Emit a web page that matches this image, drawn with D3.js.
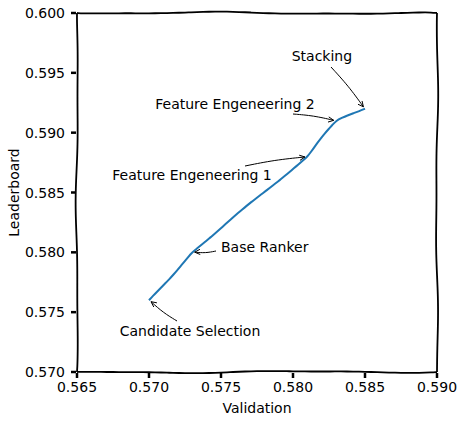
<!DOCTYPE html>
<html><head><meta charset="utf-8">
<script src="https://cdn.jsdelivr.net/npm/d3@7"></script>
<style>body{margin:0;background:#fff}svg{display:block}text{font-family:"DejaVu Sans",sans-serif;fill:#000}</style>
</head><body>
<script>
const stages = ["Candidate Selection","Base Ranker","Feature Engeneering 1","Feature Engeneering 2","Stacking"];
const validation = [0.570, 0.573, 0.581, 0.583, 0.585];
const leaderboard = [0.576, 0.580, 0.588, 0.591, 0.592];
const xTicks = [0.565,0.570,0.575,0.580,0.585,0.590];
const yTicks = [0.570,0.575,0.580,0.585,0.590,0.595,0.600];
// annotation text anchor positions in data units
const labelX = [0.57285, 0.5750, 0.57299, 0.57597, 0.58201];
const labelY = [0.5730, 0.5800, 0.58604, 0.59198, 0.59599];

const W=463,H=423,FS=14;
const svg=d3.select("body").append("svg").attr("width",W).attr("height",H);
const x=d3.scaleLinear().domain([0.565,0.590]).range([77,437]);
const y=d3.scaleLinear().domain([0.570,0.600]).range([372,13]);

function wob(x0,y0,x1,y1,seed,amp){
  const n=60,pts=[];
  const len=Math.hypot(x1-x0,y1-y0), nx=-(y1-y0)/len, ny=(x1-x0)/len;
  for(let i=0;i<=n;i++){
    const t=i/n;
    const d=amp*(Math.sin(t*len/38+seed)*0.7+Math.sin(t*len/17+seed*2.3)*0.3)*Math.sin(Math.PI*t)**0.3;
    pts.push([x0+(x1-x0)*t+nx*d,y0+(y1-y0)*t+ny*d]);
  }
  return d3.line().curve(d3.curveBasis)(pts);
}
const g=svg.append("g");
xTicks.forEach(v=>g.append("line").attr("x1",x(v)).attr("x2",x(v)).attr("y1",y(0.570)+1).attr("y2",y(0.570)+6).attr("stroke","#000").attr("stroke-width",2.5));
yTicks.forEach(v=>g.append("line").attr("y1",y(v)).attr("y2",y(v)).attr("x1",x(0.565)-1).attr("x2",x(0.565)-6).attr("stroke","#000").attr("stroke-width",2.5));
xTicks.forEach(v=>g.append("text").attr("x",x(v)).attr("y",y(0.570)+20).attr("text-anchor","middle").attr("font-size",FS).text(v.toFixed(3)));
yTicks.forEach(v=>g.append("text").attr("x",x(0.565)-12).attr("y",y(v)+5).attr("text-anchor","end").attr("font-size",FS).text(v.toFixed(3)));
g.append("text").attr("x",(x(0.565)+x(0.590))/2).attr("y",413).attr("text-anchor","middle").attr("font-size",FS).text("Validation");
g.append("text").attr("transform",`translate(19,${(y(0.570)+y(0.600))/2}) rotate(-90)`).attr("text-anchor","middle").attr("font-size",FS).text("Leaderboard");

const L=x(0.565),R=x(0.590),T=y(0.600),B=y(0.570);
[[L,T,R,T,1.1],[R,T,R,B,2.7],[R,B,L,B,4.2],[L,B,L,T,0.4]].forEach(s=>
  g.append("path").attr("d",wob(s[0],s[1],s[2],s[3],s[4],1.4)).attr("fill","none").attr("stroke","#000").attr("stroke-width",1.8));

const pts=validation.map((v,i)=>[x(v),y(leaderboard[i])]);
const dense=[];
for(let i=0;i<pts.length-1;i++){
  const [a,b]=[pts[i],pts[i+1]];
  const len=Math.hypot(b[0]-a[0],b[1]-a[1]);
  const n=Math.max(2,Math.round(len/6));
  const nx=-(b[1]-a[1])/len, ny=(b[0]-a[0])/len;
  for(let k=0;k<n;k++){
    const t=k/n;
    const d=1.0*Math.sin(t*len/22+i*1.7)*Math.sin(Math.PI*t);
    dense.push([a[0]+(b[0]-a[0])*t+nx*d,a[1]+(b[1]-a[1])*t+ny*d]);
  }
}
dense.push(pts[pts.length-1]);
g.append("path").attr("d",d3.line().curve(d3.curveBasis)(dense)).attr("fill","none").attr("stroke","#1f77b4").attr("stroke-width",2);

const anchors=["middle","start","middle","middle","middle"];
const arrowStart=[[177,321],[216,251],[245,166],[293,114],[331,67]];
stages.forEach((s,i)=>{
  g.append("text").attr("x",x(labelX[i])).attr("y",y(labelY[i])).attr("text-anchor",anchors[i]).attr("font-size",FS).text(s);
  const tx=pts[i][0], ty=pts[i][1];
  const [sx,sy]=arrowStart[i];
  const ang=Math.atan2(ty-sy,tx-sx);
  const ex=tx-Math.cos(ang)*2.5, ey=ty-Math.sin(ang)*2.5;
  g.append("path").attr("d",d3.line().curve(d3.curveBasis)([[sx,sy],[(sx+ex)/2+Math.sin(ang)*1.5,(sy+ey)/2-Math.cos(ang)*1.5],[ex,ey]])).attr("fill","none").attr("stroke","#000").attr("stroke-width",1);
  const hl=6, ha=0.45;
  g.append("path").attr("d",`M${ex-hl*Math.cos(ang-ha)},${ey-hl*Math.sin(ang-ha)}L${ex},${ey}L${ex-hl*Math.cos(ang+ha)},${ey-hl*Math.sin(ang+ha)}`).attr("fill","none").attr("stroke","#000").attr("stroke-width",1);
});
</script>
</body></html>
